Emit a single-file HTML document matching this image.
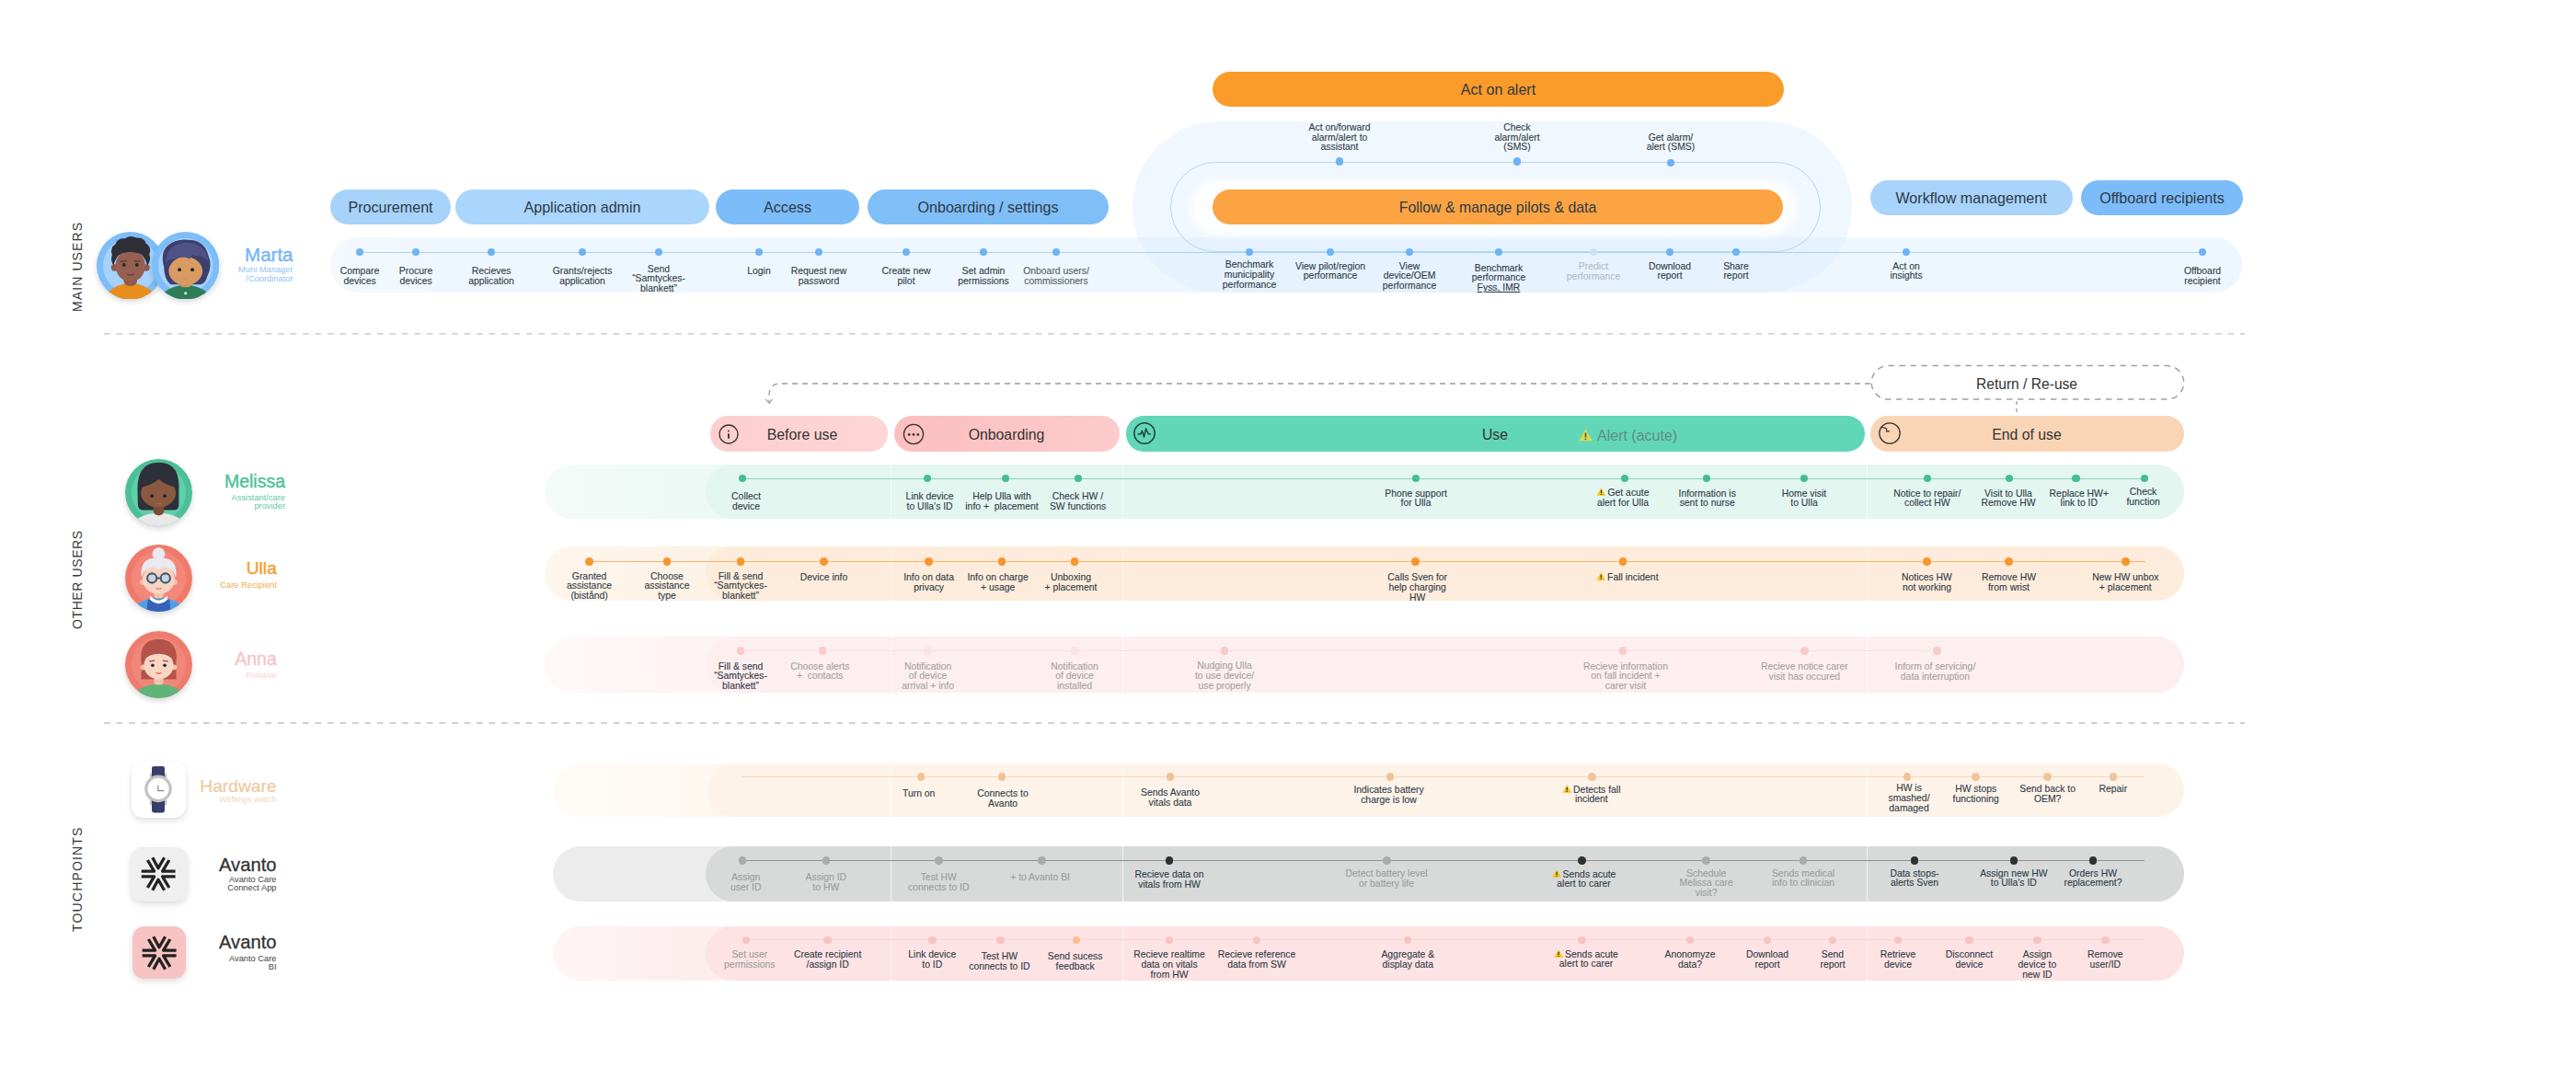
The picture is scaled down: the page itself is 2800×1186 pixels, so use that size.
<!DOCTYPE html>
<html><head><meta charset="utf-8"><style>
html,body{margin:0;padding:0;background:#ffffff;}
body{width:2800px;height:1186px;position:relative;overflow:hidden;font-family:"Liberation Sans", sans-serif;}
.it{position:absolute;transform:translateX(-50%);white-space:nowrap;text-align:center;-webkit-text-stroke:0.1px currentColor;}
.vt{position:absolute;transform-origin:0 0;transform:rotate(-90deg);white-space:nowrap;color:#3a3a3a;font-size:14px;line-height:14px;}
</style></head><body>

<div class="vt" style="left:77px;top:339px;letter-spacing:1.1px">MAIN USERS</div>
<div class="vt" style="left:77px;top:683.5px;letter-spacing:0.6px">OTHER USERS</div>
<div class="vt" style="left:77px;top:1012.5px;letter-spacing:1.18px">TOUCHPOINTS</div>
<svg style="position:absolute;left:0;top:0" width="2800" height="1186"><line x1="113" y1="362.9" x2="2440" y2="362.9" stroke="#c2c2c2" stroke-width="1.35" stroke-dasharray="6.7 6.8"/><line x1="113" y1="786" x2="2440" y2="786" stroke="#c2c2c2" stroke-width="1.35" stroke-dasharray="6.7 6.8"/></svg>
<div style="position:absolute;left:359.0px;top:258.0px;width:2078.0px;height:59.6px;background:linear-gradient(to right,#f3f9fe 0px,#eff7fe 120px);border-radius:30.0px;"></div>
<div style="position:absolute;left:1231.0px;top:132.0px;width:782.0px;height:185.7px;background:rgba(214,233,252,0.36);border-radius:93.0px;"></div>
<div style="position:absolute;left:1293px;top:195px;width:660px;height:61px;border-radius:30px;background:#fdfeff;filter:blur(5px)"></div>
<div style="position:absolute;left:1272px;top:175.5px;width:707px;height:98px;border-radius:49px;border:1px solid #b5d6f6;box-sizing:border-box"></div>
<div style="position:absolute;left:391.0px;top:273.5px;width:2003.0px;height:1.0px;background:#a9d2f7"></div>
<div style="position:absolute;left:359.0px;top:206.0px;width:131.0px;height:38.0px;background:#a7d3fb;border-radius:19.0px;"></div>
<div style="position:absolute;left:424.5px;top:216.4px;transform:translateX(-50%);white-space:nowrap;font-size:16.1px;line-height:19.3px;color:#2e3a44;font-weight:normal;text-align:center;">Procurement</div>
<div style="position:absolute;left:495.0px;top:206.0px;width:276.0px;height:38.0px;background:#aad5fc;border-radius:19.0px;"></div>
<div style="position:absolute;left:633.0px;top:216.4px;transform:translateX(-50%);white-space:nowrap;font-size:16.1px;line-height:19.3px;color:#2e3a44;font-weight:normal;text-align:center;">Application admin</div>
<div style="position:absolute;left:778.0px;top:206.0px;width:156.0px;height:38.0px;background:#7cbcf8;border-radius:19.0px;"></div>
<div style="position:absolute;left:856.0px;top:216.4px;transform:translateX(-50%);white-space:nowrap;font-size:16.1px;line-height:19.3px;color:#2e3a44;font-weight:normal;text-align:center;">Access</div>
<div style="position:absolute;left:943.0px;top:206.0px;width:262.0px;height:38.0px;background:#80bef8;border-radius:19.0px;"></div>
<div style="position:absolute;left:1074.0px;top:216.4px;transform:translateX(-50%);white-space:nowrap;font-size:16.1px;line-height:19.3px;color:#2e3a44;font-weight:normal;text-align:center;">Onboarding / settings</div>
<div style="position:absolute;left:2032.5px;top:195.5px;width:220.1px;height:38.0px;background:#a8d3fb;border-radius:19.0px;"></div>
<div style="position:absolute;left:2142.6px;top:205.9px;transform:translateX(-50%);white-space:nowrap;font-size:16.1px;line-height:19.3px;color:#2e3a44;font-weight:normal;text-align:center;">Workflow management</div>
<div style="position:absolute;left:2262.0px;top:195.5px;width:176.0px;height:38.0px;background:#7cbcf8;border-radius:19.0px;"></div>
<div style="position:absolute;left:2350.0px;top:205.9px;transform:translateX(-50%);white-space:nowrap;font-size:16.1px;line-height:19.3px;color:#2e3a44;font-weight:normal;text-align:center;">Offboard recipients</div>
<div style="position:absolute;left:1318.0px;top:78.0px;width:621.0px;height:38.0px;background:#fb9b29;border-radius:19.0px;"></div>
<div style="position:absolute;left:1628.5px;top:88.4px;transform:translateX(-50%);white-space:nowrap;font-size:16.1px;line-height:19.3px;color:#2e3a44;font-weight:normal;text-align:center;">Act on alert</div>
<div style="position:absolute;left:1318.0px;top:205.5px;width:620.0px;height:38.0px;background:#fca443;border-radius:19.0px;"></div>
<div style="position:absolute;left:1628.0px;top:216.1px;transform:translateX(-50%);white-space:nowrap;font-size:15.9px;line-height:19.1px;color:#2e3a44;font-weight:normal;text-align:center;">Follow &amp; manage pilots &amp; data</div>
<div style="position:absolute;left:386.7px;top:269.7px;width:8.6px;height:8.6px;border-radius:50%;background:#6db3f4"></div>
<div style="position:absolute;left:447.7px;top:269.7px;width:8.6px;height:8.6px;border-radius:50%;background:#6db3f4"></div>
<div style="position:absolute;left:529.7px;top:269.7px;width:8.6px;height:8.6px;border-radius:50%;background:#6db3f4"></div>
<div style="position:absolute;left:628.7px;top:269.7px;width:8.6px;height:8.6px;border-radius:50%;background:#6db3f4"></div>
<div style="position:absolute;left:711.7px;top:269.7px;width:8.6px;height:8.6px;border-radius:50%;background:#6db3f4"></div>
<div style="position:absolute;left:820.7px;top:269.7px;width:8.6px;height:8.6px;border-radius:50%;background:#6db3f4"></div>
<div style="position:absolute;left:885.7px;top:269.7px;width:8.6px;height:8.6px;border-radius:50%;background:#6db3f4"></div>
<div style="position:absolute;left:980.7px;top:269.7px;width:8.6px;height:8.6px;border-radius:50%;background:#6db3f4"></div>
<div style="position:absolute;left:1064.7px;top:269.7px;width:8.6px;height:8.6px;border-radius:50%;background:#6db3f4"></div>
<div style="position:absolute;left:1143.7px;top:269.7px;width:8.6px;height:8.6px;border-radius:50%;background:#6db3f4"></div>
<div style="position:absolute;left:1353.7px;top:269.7px;width:8.6px;height:8.6px;border-radius:50%;background:#6db3f4"></div>
<div style="position:absolute;left:1441.7px;top:269.7px;width:8.6px;height:8.6px;border-radius:50%;background:#6db3f4"></div>
<div style="position:absolute;left:1527.7px;top:269.7px;width:8.6px;height:8.6px;border-radius:50%;background:#6db3f4"></div>
<div style="position:absolute;left:1624.7px;top:269.7px;width:8.6px;height:8.6px;border-radius:50%;background:#6db3f4"></div>
<div style="position:absolute;left:1810.7px;top:269.7px;width:8.6px;height:8.6px;border-radius:50%;background:#6db3f4"></div>
<div style="position:absolute;left:1882.7px;top:269.7px;width:8.6px;height:8.6px;border-radius:50%;background:#6db3f4"></div>
<div style="position:absolute;left:2067.7px;top:269.7px;width:8.6px;height:8.6px;border-radius:50%;background:#6db3f4"></div>
<div style="position:absolute;left:2389.7px;top:269.7px;width:8.6px;height:8.6px;border-radius:50%;background:#6db3f4"></div>
<div style="position:absolute;left:1727.7px;top:269.7px;width:8.6px;height:8.6px;border-radius:50%;background:#c9e2fa"></div>
<div style="position:absolute;left:1451.7px;top:171.2px;width:8.6px;height:8.6px;border-radius:50%;background:#6db3f4"></div>
<div style="position:absolute;left:1644.7px;top:171.2px;width:8.6px;height:8.6px;border-radius:50%;background:#6db3f4"></div>
<div style="position:absolute;left:1811.7px;top:172.7px;width:8.6px;height:8.6px;border-radius:50%;background:#6db3f4"></div>
<div class="it" style="left:391.0px;top:290.1px;color:#2f3a46;font-size:10.4px;line-height:10.7px">Compare<br>devices</div>
<div class="it" style="left:452.0px;top:290.1px;color:#2f3a46;font-size:10.4px;line-height:10.7px">Procure<br>devices</div>
<div class="it" style="left:534.0px;top:290.1px;color:#2f3a46;font-size:10.4px;line-height:10.7px">Recieves<br>application</div>
<div class="it" style="left:633.0px;top:290.1px;color:#2f3a46;font-size:10.4px;line-height:10.7px">Grants/rejects<br>application</div>
<div class="it" style="left:716.0px;top:287.6px;color:#2f3a46;font-size:10.4px;line-height:10.7px">Send<br>&ldquo;Samtyckes-<br>blankett&rdquo;</div>
<div class="it" style="left:825.0px;top:290.1px;color:#2f3a46;font-size:10.4px;line-height:10.7px">Login</div>
<div class="it" style="left:890.0px;top:290.1px;color:#2f3a46;font-size:10.4px;line-height:10.7px">Request new<br>password</div>
<div class="it" style="left:985.0px;top:290.1px;color:#2f3a46;font-size:10.4px;line-height:10.7px">Create new<br>pilot</div>
<div class="it" style="left:1069.0px;top:290.1px;color:#2f3a46;font-size:10.4px;line-height:10.7px">Set admin<br>permissions</div>
<div class="it" style="left:1358.0px;top:283.2px;color:#2f3a46;font-size:10.4px;line-height:10.7px">Benchmark<br>municipality<br>performance</div>
<div class="it" style="left:1446.0px;top:284.5px;color:#2f3a46;font-size:10.4px;line-height:10.7px">View pilot/region<br>performance</div>
<div class="it" style="left:1532.0px;top:284.5px;color:#2f3a46;font-size:10.4px;line-height:10.7px">View<br>device/OEM<br>performance</div>
<div class="it" style="left:1629.0px;top:286.5px;color:#2f3a46;font-size:10.4px;line-height:10.7px">Benchmark<br>performance<br><span style="text-decoration:underline">Fyss, IMR</span></div>
<div class="it" style="left:1815.0px;top:284.5px;color:#2f3a46;font-size:10.4px;line-height:10.7px">Download<br>report</div>
<div class="it" style="left:1887.0px;top:284.5px;color:#2f3a46;font-size:10.4px;line-height:10.7px">Share<br>report</div>
<div class="it" style="left:2072.0px;top:284.5px;color:#2f3a46;font-size:10.4px;line-height:10.7px">Act on<br>insights</div>
<div class="it" style="left:2394.0px;top:290.3px;color:#2f3a46;font-size:10.4px;line-height:10.7px">Offboard<br>recipient</div>
<div class="it" style="left:1456.0px;top:133.8px;color:#2f3a46;font-size:10.4px;line-height:10.7px">Act on/forward<br>alarm/alert to<br>assistant</div>
<div class="it" style="left:1649.0px;top:133.8px;color:#2f3a46;font-size:10.4px;line-height:10.7px">Check<br>alarm/alert<br>(SMS)</div>
<div class="it" style="left:1816.0px;top:144.7px;color:#2f3a46;font-size:10.4px;line-height:10.7px">Get alarm/<br>alert (SMS)</div>
<div class="it" style="left:1148.0px;top:290.1px;color:#555b62;font-size:10.4px;line-height:10.7px">Onboard users/<br>commissioners</div>
<div class="it" style="left:1732.0px;top:285.2px;color:#b5bcc4;font-size:10.4px;line-height:10.7px">Predict<br>performance</div>
<svg style="position:absolute;left:0;top:0" width="2800" height="1186"><path d="M2033 417 L848 417 Q836 417 836 430 L836 437" fill="none" stroke="#9a9a9a" stroke-width="1.3" stroke-dasharray="6 5"/><path d="M832.5 434 L836 438.5 L839.5 434" fill="none" stroke="#777" stroke-width="1"/><line x1="2192" y1="436" x2="2192" y2="452" stroke="#9a9a9a" stroke-width="1.3" stroke-dasharray="4 4"/></svg>
<svg style="position:absolute;left:0;top:0" width="2800" height="1186"><rect x="2034.2" y="397.6" width="339.5" height="36.5" rx="18.25" fill="none" stroke="#a0a0a0" stroke-width="1.5" stroke-dasharray="6.5 5.5"/></svg>
<div style="position:absolute;left:2203.0px;top:408.7px;transform:translateX(-50%);white-space:nowrap;font-size:15.6px;line-height:18.7px;color:#333;font-weight:normal;text-align:center;">Return / Re-use</div>
<div style="position:absolute;left:771.5px;top:452.3px;width:193.5px;height:38.3px;background:linear-gradient(to right,#fdcfcf,#fdd6d5);border-radius:19.2px;"></div>
<div style="position:absolute;left:779.9px;top:459.7px;width:24px;height:24px;line-height:0"><svg width="24" height="24" viewBox="-12 -12 24 24"><circle cx="0" cy="0" r="10" fill="none" stroke="#3a3333" stroke-width="1.3"/><circle cx="-0.1" cy="-3.5" r="0.9" fill="#3a3333"/><rect x="-1" y="-0.8" width="1.9" height="5.6" rx="0.9" fill="#3a3333"/></svg></div>
<div style="position:absolute;left:872.0px;top:463.2px;transform:translateX(-50%);white-space:nowrap;font-size:15.8px;line-height:19.0px;color:#333;font-weight:normal;text-align:center;">Before use</div>
<div style="position:absolute;left:971.7px;top:452.3px;width:245.3px;height:38.3px;background:linear-gradient(to right,#fcbfbf,#fdcbcb);border-radius:19.2px;"></div>
<div style="position:absolute;left:980.6px;top:459.7px;width:24px;height:24px;line-height:0"><svg width="24" height="24" viewBox="-12 -12 24 24"><circle cx="0" cy="0" r="10.6" fill="none" stroke="#3a3333" stroke-width="1.3"/><circle cx="-4.8" cy="0.4" r="1.4" fill="#3a3333"/><circle cx="0" cy="0.4" r="1.4" fill="#3a3333"/><circle cx="4.8" cy="0.4" r="1.4" fill="#3a3333"/></svg></div>
<div style="position:absolute;left:1094.0px;top:463.2px;transform:translateX(-50%);white-space:nowrap;font-size:15.8px;line-height:19.0px;color:#333;font-weight:normal;text-align:center;">Onboarding</div>
<div style="position:absolute;left:1224.0px;top:452.3px;width:803.0px;height:38.3px;background:#62d7b8;border-radius:19.2px;"></div>
<div style="position:absolute;left:1230.9px;top:458.2px;width:26px;height:26px;line-height:0"><svg width="26" height="26" viewBox="-13 -13 26 26"><circle cx="0" cy="0" r="11.2" fill="none" stroke="#1e463c" stroke-width="1.5"/><path d="M-7.4 1.1 L-4.5 1.1 L-2.6 -2.7 L-0.5 4 L1.6 -5 L4.2 0.8 L6.7 1.1" fill="none" stroke="#1e463c" stroke-width="1.5" stroke-linejoin="round"/></svg></div>
<div style="position:absolute;left:1625.0px;top:463.2px;transform:translateX(-50%);white-space:nowrap;font-size:15.8px;line-height:19.0px;color:#333;font-weight:normal;text-align:center;">Use</div>
<div style="position:absolute;left:1716px;top:463.5px;white-space:nowrap;font-size:16px;line-height:20px;color:#5e8e80"><svg width="15" height="14" viewBox="0 0 10 9" style="vertical-align:-1px;margin-right:5px"><path d="M5 0.3 L9.8 8.7 L0.2 8.7 Z" fill="#d8dc4a"/><rect x="4.45" y="2.8" width="1.1" height="3.4" fill="#555"/><rect x="4.45" y="6.9" width="1.1" height="1.0" fill="#555"/></svg>Alert (acute)</div>
<div style="position:absolute;left:2033.4px;top:452.3px;width:340.6px;height:38.3px;background:#f9d5b6;border-radius:19.2px;"></div>
<div style="position:absolute;left:2041.2px;top:458.2px;width:26px;height:26px;line-height:0"><svg width="26" height="26" viewBox="-13 -13 26 26"><circle cx="0" cy="0" r="11.2" fill="none" stroke="#3b3530" stroke-width="1.3"/><path d="M-8.6 -6.9 L-3.3 -5 L-3.5 -1.9 L0 -2.4" fill="none" stroke="#3b3530" stroke-width="1.2" stroke-linejoin="round"/></svg></div>
<div style="position:absolute;left:2203.0px;top:463.2px;transform:translateX(-50%);white-space:nowrap;font-size:15.8px;line-height:19.0px;color:#333;font-weight:normal;text-align:center;">End of use</div>
<div style="position:absolute;left:592.0px;top:505.0px;width:1782.0px;height:59.0px;background:linear-gradient(to right,#f4fbf8 0px,#edf9f5 160px);border-radius:29.5px;"></div>
<div style="position:absolute;left:767.0px;top:505.0px;width:1607.0px;height:59.0px;background:#e3f6f0;border-radius:29.5px;"></div>
<div style="position:absolute;left:968.0px;top:505.0px;width:1.1px;height:59.0px;background:rgba(255,255,255,0.65)"></div>
<div style="position:absolute;left:1219.5px;top:505.0px;width:1.1px;height:59.0px;background:rgba(255,255,255,0.65)"></div>
<div style="position:absolute;left:2029.0px;top:505.0px;width:1.1px;height:59.0px;background:rgba(255,255,255,0.65)"></div>
<div style="position:absolute;left:807.0px;top:519.5px;width:1524.0px;height:1.1px;background:#86d6ba"></div>
<div style="position:absolute;left:802.7px;top:515.7px;width:8.6px;height:8.6px;border-radius:50%;background:#47bb92"></div>
<div style="position:absolute;left:1003.7px;top:515.7px;width:8.6px;height:8.6px;border-radius:50%;background:#47bb92"></div>
<div style="position:absolute;left:1088.7px;top:515.7px;width:8.6px;height:8.6px;border-radius:50%;background:#47bb92"></div>
<div style="position:absolute;left:1167.7px;top:515.7px;width:8.6px;height:8.6px;border-radius:50%;background:#47bb92"></div>
<div style="position:absolute;left:1534.7px;top:515.7px;width:8.6px;height:8.6px;border-radius:50%;background:#47bb92"></div>
<div style="position:absolute;left:1761.7px;top:515.7px;width:8.6px;height:8.6px;border-radius:50%;background:#47bb92"></div>
<div style="position:absolute;left:1850.7px;top:515.7px;width:8.6px;height:8.6px;border-radius:50%;background:#47bb92"></div>
<div style="position:absolute;left:1956.7px;top:515.7px;width:8.6px;height:8.6px;border-radius:50%;background:#47bb92"></div>
<div style="position:absolute;left:2090.7px;top:515.7px;width:8.6px;height:8.6px;border-radius:50%;background:#47bb92"></div>
<div style="position:absolute;left:2179.7px;top:515.7px;width:8.6px;height:8.6px;border-radius:50%;background:#47bb92"></div>
<div style="position:absolute;left:2252.2px;top:515.7px;width:8.6px;height:8.6px;border-radius:50%;background:#47bb92"></div>
<div style="position:absolute;left:2326.7px;top:515.7px;width:8.6px;height:8.6px;border-radius:50%;background:#47bb92"></div>
<div class="it" style="left:811.0px;top:535.4px;color:#2f3a46;font-size:10.4px;line-height:10.7px">Collect<br>device</div>
<div class="it" style="left:1010.6px;top:535.4px;color:#2f3a46;font-size:10.4px;line-height:10.7px">Link device<br>to Ulla&rsquo;s ID</div>
<div class="it" style="left:1089.0px;top:535.4px;color:#2f3a46;font-size:10.4px;line-height:10.7px">Help Ulla with<br>info +&nbsp; placement</div>
<div class="it" style="left:1171.5px;top:535.4px;color:#2f3a46;font-size:10.4px;line-height:10.7px">Check HW /<br>SW functions</div>
<div class="it" style="left:1539.0px;top:531.6px;color:#2f3a46;font-size:10.4px;line-height:10.7px">Phone support<br>for Ulla</div>
<div class="it" style="left:1764.0px;top:530.4px;color:#2f3a46;font-size:10.4px;line-height:10.7px"><svg width="10" height="9" viewBox="0 0 10 9" style="vertical-align:-0.5px;margin-right:2px"><path d="M5 0.3 L9.8 8.7 L0.2 8.7 Z" fill="#f5c518"/><rect x="4.4" y="2.8" width="1.2" height="3.4" fill="#333"/><rect x="4.4" y="6.9" width="1.2" height="1.1" fill="#333"/></svg>Get acute<br>alert for Ulla</div>
<div class="it" style="left:1855.7px;top:531.6px;color:#2f3a46;font-size:10.4px;line-height:10.7px">Information is<br>sent to nurse</div>
<div class="it" style="left:1961.0px;top:531.6px;color:#2f3a46;font-size:10.4px;line-height:10.7px">Home visit<br>to Ulla</div>
<div class="it" style="left:2094.8px;top:531.6px;color:#2f3a46;font-size:10.4px;line-height:10.7px">Notice to repair/<br>collect HW</div>
<div class="it" style="left:2183.0px;top:531.6px;color:#2f3a46;font-size:10.4px;line-height:10.7px">Visit to Ulla<br>Remove HW</div>
<div class="it" style="left:2259.8px;top:531.6px;color:#2f3a46;font-size:10.4px;line-height:10.7px">Replace HW+<br>link to ID</div>
<div class="it" style="left:2329.6px;top:529.9px;color:#2f3a46;font-size:10.4px;line-height:10.7px">Check<br>function</div>
<div style="position:absolute;left:592.0px;top:593.5px;width:1782.0px;height:59.8px;background:linear-gradient(to right,#fef6ee 0px,#fdf2e6 160px);border-radius:29.9px;"></div>
<div style="position:absolute;left:767.0px;top:593.5px;width:1607.0px;height:59.8px;background:#fdecdb;border-radius:29.9px;"></div>
<div style="position:absolute;left:968.0px;top:593.5px;width:1.1px;height:59.8px;background:rgba(255,255,255,0.65)"></div>
<div style="position:absolute;left:1219.5px;top:593.5px;width:1.1px;height:59.8px;background:rgba(255,255,255,0.65)"></div>
<div style="position:absolute;left:2029.0px;top:593.5px;width:1.1px;height:59.8px;background:rgba(255,255,255,0.65)"></div>
<div style="position:absolute;left:640.0px;top:610.0px;width:1692.0px;height:1.1px;background:#f8b468"></div>
<div style="position:absolute;left:636.3px;top:606.2px;width:8.6px;height:8.6px;border-radius:50%;background:#f6962b"></div>
<div style="position:absolute;left:720.7px;top:606.2px;width:8.6px;height:8.6px;border-radius:50%;background:#f6962b"></div>
<div style="position:absolute;left:800.7px;top:606.2px;width:8.6px;height:8.6px;border-radius:50%;background:#f6962b"></div>
<div style="position:absolute;left:891.2px;top:606.2px;width:8.6px;height:8.6px;border-radius:50%;background:#f6962b"></div>
<div style="position:absolute;left:1005.3px;top:606.2px;width:8.6px;height:8.6px;border-radius:50%;background:#f6962b"></div>
<div style="position:absolute;left:1084.7px;top:606.2px;width:8.6px;height:8.6px;border-radius:50%;background:#f6962b"></div>
<div style="position:absolute;left:1163.7px;top:606.2px;width:8.6px;height:8.6px;border-radius:50%;background:#f6962b"></div>
<div style="position:absolute;left:1534.3px;top:606.2px;width:8.6px;height:8.6px;border-radius:50%;background:#f6962b"></div>
<div style="position:absolute;left:1759.7px;top:606.2px;width:8.6px;height:8.6px;border-radius:50%;background:#f6962b"></div>
<div style="position:absolute;left:2090.4px;top:606.2px;width:8.6px;height:8.6px;border-radius:50%;background:#f6962b"></div>
<div style="position:absolute;left:2179.2px;top:606.2px;width:8.6px;height:8.6px;border-radius:50%;background:#f6962b"></div>
<div style="position:absolute;left:2306.0px;top:606.2px;width:8.6px;height:8.6px;border-radius:50%;background:#f6962b"></div>
<div class="it" style="left:640.6px;top:621.5px;color:#2f3a46;font-size:10.4px;line-height:10.7px">Granted<br>assistance<br>(bist&aring;nd)</div>
<div class="it" style="left:725.0px;top:621.5px;color:#2f3a46;font-size:10.4px;line-height:10.7px">Choose<br>assistance<br>type</div>
<div class="it" style="left:805.0px;top:621.5px;color:#2f3a46;font-size:10.4px;line-height:10.7px">Fill &amp; send<br>&ldquo;Samtyckes-<br>blankett&rdquo;</div>
<div class="it" style="left:895.5px;top:623.1px;color:#2f3a46;font-size:10.4px;line-height:10.7px">Device info</div>
<div class="it" style="left:1009.6px;top:623.1px;color:#2f3a46;font-size:10.4px;line-height:10.7px">Info on data<br>privacy</div>
<div class="it" style="left:1084.6px;top:623.1px;color:#2f3a46;font-size:10.4px;line-height:10.7px">Info on charge<br>+ usage</div>
<div class="it" style="left:1164.0px;top:623.1px;color:#2f3a46;font-size:10.4px;line-height:10.7px">Unboxing<br>+ placement</div>
<div class="it" style="left:1540.7px;top:623.1px;color:#2f3a46;font-size:10.4px;line-height:10.7px">Calls Sven for<br>help charging<br>HW</div>
<div class="it" style="left:1768.8px;top:621.9px;color:#2f3a46;font-size:10.4px;line-height:10.7px"><svg width="10" height="9" viewBox="0 0 10 9" style="vertical-align:-0.5px;margin-right:2px"><path d="M5 0.3 L9.8 8.7 L0.2 8.7 Z" fill="#f5c518"/><rect x="4.4" y="2.8" width="1.2" height="3.4" fill="#333"/><rect x="4.4" y="6.9" width="1.2" height="1.1" fill="#333"/></svg>Fall incident</div>
<div class="it" style="left:2094.5px;top:623.0px;color:#2f3a46;font-size:10.4px;line-height:10.7px">Notices HW<br>not working</div>
<div class="it" style="left:2183.5px;top:623.0px;color:#2f3a46;font-size:10.4px;line-height:10.7px">Remove HW<br>from wrist</div>
<div class="it" style="left:2310.3px;top:623.0px;color:#2f3a46;font-size:10.4px;line-height:10.7px">New HW unbox<br>+ placement</div>
<div style="position:absolute;left:592.0px;top:692.0px;width:1782.0px;height:60.5px;background:linear-gradient(to right,#fff9f9 0px,#fef3f3 160px);border-radius:30.2px;"></div>
<div style="position:absolute;left:767.0px;top:692.0px;width:1607.0px;height:60.5px;background:#fdefef;border-radius:30.2px;"></div>
<div style="position:absolute;left:968.0px;top:692.0px;width:1.1px;height:60.5px;background:rgba(255,255,255,0.65)"></div>
<div style="position:absolute;left:1219.5px;top:692.0px;width:1.1px;height:60.5px;background:rgba(255,255,255,0.65)"></div>
<div style="position:absolute;left:2029.0px;top:692.0px;width:1.1px;height:60.5px;background:rgba(255,255,255,0.65)"></div>
<div style="position:absolute;left:805.0px;top:706.6px;width:1300.0px;height:1.3px;background:#fbdede"></div>
<div style="position:absolute;left:800.7px;top:703.0px;width:8.6px;height:8.6px;border-radius:50%;background:#f9caca"></div>
<div style="position:absolute;left:889.7px;top:703.0px;width:8.6px;height:8.6px;border-radius:50%;background:#f9caca"></div>
<div style="position:absolute;left:1326.7px;top:703.0px;width:8.6px;height:8.6px;border-radius:50%;background:#f9caca"></div>
<div style="position:absolute;left:1759.7px;top:703.0px;width:8.6px;height:8.6px;border-radius:50%;background:#f9caca"></div>
<div style="position:absolute;left:1957.0px;top:703.0px;width:8.6px;height:8.6px;border-radius:50%;background:#f9caca"></div>
<div style="position:absolute;left:2101.3px;top:703.0px;width:8.6px;height:8.6px;border-radius:50%;background:#f9caca"></div>
<div style="position:absolute;left:1004.3px;top:703.0px;width:8.6px;height:8.6px;border-radius:50%;background:#fbe3e3"></div>
<div style="position:absolute;left:1163.7px;top:703.0px;width:8.6px;height:8.6px;border-radius:50%;background:#fbe3e3"></div>
<div class="it" style="left:805.0px;top:719.6px;color:#2f3a46;font-size:10.4px;line-height:10.7px">Fill &amp; send<br>&ldquo;Samtyckes-<br>blankett&rdquo;</div>
<div class="it" style="left:891.3px;top:719.6px;color:#a3a3a3;font-size:10.4px;line-height:10.7px">Choose alerts<br>+&nbsp; contacts</div>
<div class="it" style="left:1008.6px;top:719.6px;color:#a3a3a3;font-size:10.4px;line-height:10.7px">Notification<br>of device<br>arrival + info</div>
<div class="it" style="left:1168.0px;top:719.6px;color:#a3a3a3;font-size:10.4px;line-height:10.7px">Notification<br>of device<br>installed</div>
<div class="it" style="left:1331.0px;top:719.1px;color:#a3a3a3;font-size:10.4px;line-height:10.7px">Nudging Ulla<br>to use device/<br>use properly</div>
<div class="it" style="left:1767.0px;top:719.6px;color:#a3a3a3;font-size:10.4px;line-height:10.7px">Recieve information<br>on fall incident +<br>carer visit</div>
<div class="it" style="left:1961.3px;top:720.1px;color:#a3a3a3;font-size:10.4px;line-height:10.7px">Recieve notice carer<br>visit has occured</div>
<div class="it" style="left:2103.4px;top:720.1px;color:#a3a3a3;font-size:10.4px;line-height:10.7px">Inform of servicing/<br>data interruption</div>
<div style="position:absolute;left:601.0px;top:830.0px;width:1773.0px;height:58.4px;background:linear-gradient(to right,#fffcf8 0px,#fef8f1 160px);border-radius:29.2px;"></div>
<div style="position:absolute;left:768.6px;top:830.0px;width:1605.4px;height:58.4px;background:#fdf3e9;border-radius:29.2px;"></div>
<div style="position:absolute;left:968.0px;top:830.0px;width:1.1px;height:58.4px;background:rgba(255,255,255,0.65)"></div>
<div style="position:absolute;left:1219.5px;top:830.0px;width:1.1px;height:58.4px;background:rgba(255,255,255,0.65)"></div>
<div style="position:absolute;left:2029.0px;top:830.0px;width:1.1px;height:58.4px;background:rgba(255,255,255,0.65)"></div>
<div style="position:absolute;left:806.0px;top:844.1px;width:1524.0px;height:1.3px;background:#f6d8b8"></div>
<div style="position:absolute;left:996.5px;top:840.4px;width:8.6px;height:8.6px;border-radius:50%;background:#f1c398"></div>
<div style="position:absolute;left:1084.7px;top:840.4px;width:8.6px;height:8.6px;border-radius:50%;background:#f1c398"></div>
<div style="position:absolute;left:1267.7px;top:840.4px;width:8.6px;height:8.6px;border-radius:50%;background:#f1c398"></div>
<div style="position:absolute;left:1506.7px;top:840.4px;width:8.6px;height:8.6px;border-radius:50%;background:#f1c398"></div>
<div style="position:absolute;left:1726.3px;top:840.4px;width:8.6px;height:8.6px;border-radius:50%;background:#f1c398"></div>
<div style="position:absolute;left:2068.5px;top:840.4px;width:8.6px;height:8.6px;border-radius:50%;background:#f1c398"></div>
<div style="position:absolute;left:2143.4px;top:840.4px;width:8.6px;height:8.6px;border-radius:50%;background:#f1c398"></div>
<div style="position:absolute;left:2221.4px;top:840.4px;width:8.6px;height:8.6px;border-radius:50%;background:#f1c398"></div>
<div style="position:absolute;left:2292.5px;top:840.4px;width:8.6px;height:8.6px;border-radius:50%;background:#f1c398"></div>
<div class="it" style="left:998.7px;top:858.2px;color:#2f3a46;font-size:10.4px;line-height:10.7px">Turn on</div>
<div class="it" style="left:1090.0px;top:858.2px;color:#2f3a46;font-size:10.4px;line-height:10.7px">Connects to<br>Avanto</div>
<div class="it" style="left:1272.0px;top:856.8px;color:#2f3a46;font-size:10.4px;line-height:10.7px">Sends Avanto<br>vitals data</div>
<div class="it" style="left:1509.5px;top:854.1px;color:#2f3a46;font-size:10.4px;line-height:10.7px">Indicates battery<br>charge is low</div>
<div class="it" style="left:1729.8px;top:852.9px;color:#2f3a46;font-size:10.4px;line-height:10.7px"><svg width="10" height="9" viewBox="0 0 10 9" style="vertical-align:-0.5px;margin-right:2px"><path d="M5 0.3 L9.8 8.7 L0.2 8.7 Z" fill="#f5c518"/><rect x="4.4" y="2.8" width="1.2" height="3.4" fill="#333"/><rect x="4.4" y="6.9" width="1.2" height="1.1" fill="#333"/></svg>Detects fall<br>incident</div>
<div class="it" style="left:2075.0px;top:852.4px;color:#2f3a46;font-size:10.4px;line-height:10.7px">HW is<br>smashed/<br>damaged</div>
<div class="it" style="left:2147.7px;top:852.9px;color:#2f3a46;font-size:10.4px;line-height:10.7px">HW stops<br>functioning</div>
<div class="it" style="left:2225.7px;top:852.9px;color:#2f3a46;font-size:10.4px;line-height:10.7px">Send back to<br>OEM?</div>
<div class="it" style="left:2296.8px;top:852.9px;color:#2f3a46;font-size:10.4px;line-height:10.7px">Repair</div>
<div style="position:absolute;left:601.0px;top:920.0px;width:1773.0px;height:59.5px;background:#ececec;border-radius:29.8px;"></div>
<div style="position:absolute;left:767.0px;top:920.0px;width:1607.0px;height:59.5px;background:#d7dad9;border-radius:29.8px;"></div>
<div style="position:absolute;left:968.0px;top:920.0px;width:1.1px;height:59.5px;background:rgba(255,255,255,0.65)"></div>
<div style="position:absolute;left:1219.5px;top:920.0px;width:1.1px;height:59.5px;background:rgba(255,255,255,0.65)"></div>
<div style="position:absolute;left:2029.0px;top:920.0px;width:1.1px;height:59.5px;background:rgba(255,255,255,0.65)"></div>
<div style="position:absolute;left:806.8px;top:934.6px;width:1523.9px;height:1.4px;background:#8f9291"></div>
<div style="position:absolute;left:802.5px;top:931.0px;width:8.6px;height:8.6px;border-radius:50%;background:#a9acab"></div>
<div style="position:absolute;left:893.5px;top:931.0px;width:8.6px;height:8.6px;border-radius:50%;background:#a9acab"></div>
<div style="position:absolute;left:1016.0px;top:931.0px;width:8.6px;height:8.6px;border-radius:50%;background:#a9acab"></div>
<div style="position:absolute;left:1128.4px;top:931.0px;width:8.6px;height:8.6px;border-radius:50%;background:#a9acab"></div>
<div style="position:absolute;left:1503.1px;top:931.0px;width:8.6px;height:8.6px;border-radius:50%;background:#a9acab"></div>
<div style="position:absolute;left:1850.4px;top:931.0px;width:8.6px;height:8.6px;border-radius:50%;background:#a9acab"></div>
<div style="position:absolute;left:1955.7px;top:931.0px;width:8.6px;height:8.6px;border-radius:50%;background:#a9acab"></div>
<div style="position:absolute;left:1266.7px;top:931.0px;width:8.6px;height:8.6px;border-radius:50%;background:#2e3231"></div>
<div style="position:absolute;left:1715.3px;top:931.0px;width:8.6px;height:8.6px;border-radius:50%;background:#2e3231"></div>
<div style="position:absolute;left:2076.7px;top:931.0px;width:8.6px;height:8.6px;border-radius:50%;background:#2e3231"></div>
<div style="position:absolute;left:2184.5px;top:931.0px;width:8.6px;height:8.6px;border-radius:50%;background:#2e3231"></div>
<div style="position:absolute;left:2270.7px;top:931.0px;width:8.6px;height:8.6px;border-radius:50%;background:#2e3231"></div>
<div class="it" style="left:810.7px;top:948.9px;color:#9b9d9c;font-size:10.4px;line-height:10.7px">Assign<br>user ID</div>
<div class="it" style="left:897.8px;top:948.9px;color:#9b9d9c;font-size:10.4px;line-height:10.7px">Assign ID<br>to HW</div>
<div class="it" style="left:1020.3px;top:948.9px;color:#9b9d9c;font-size:10.4px;line-height:10.7px">Test HW<br>connects to ID</div>
<div class="it" style="left:1130.6px;top:948.9px;color:#9b9d9c;font-size:10.4px;line-height:10.7px">+ to Avanto BI</div>
<div class="it" style="left:1507.0px;top:945.1px;color:#9b9d9c;font-size:10.4px;line-height:10.7px">Detect battery level<br>or battery life</div>
<div class="it" style="left:1854.7px;top:944.6px;color:#9b9d9c;font-size:10.4px;line-height:10.7px">Schedule<br>Melissa care<br>visit?</div>
<div class="it" style="left:1960.0px;top:944.6px;color:#9b9d9c;font-size:10.4px;line-height:10.7px">Sends medical<br>info to clinician</div>
<div class="it" style="left:1271.0px;top:946.1px;color:#2f3a46;font-size:10.4px;line-height:10.7px">Recieve data on<br>vitals from HW</div>
<div class="it" style="left:1721.5px;top:944.9px;color:#2f3a46;font-size:10.4px;line-height:10.7px"><svg width="10" height="9" viewBox="0 0 10 9" style="vertical-align:-0.5px;margin-right:2px"><path d="M5 0.3 L9.8 8.7 L0.2 8.7 Z" fill="#f5c518"/><rect x="4.4" y="2.8" width="1.2" height="3.4" fill="#333"/><rect x="4.4" y="6.9" width="1.2" height="1.1" fill="#333"/></svg>Sends acute<br>alert to carer</div>
<div class="it" style="left:2081.0px;top:944.6px;color:#2f3a46;font-size:10.4px;line-height:10.7px">Data stops-<br>alerts Sven</div>
<div class="it" style="left:2188.8px;top:944.6px;color:#2f3a46;font-size:10.4px;line-height:10.7px">Assign new HW<br>to Ulla&rsquo;s ID</div>
<div class="it" style="left:2275.0px;top:944.6px;color:#2f3a46;font-size:10.4px;line-height:10.7px">Orders HW<br>replacement?</div>
<div style="position:absolute;left:601.0px;top:1006.8px;width:1773.0px;height:59.0px;background:linear-gradient(to right,#fef5f5 0px,#fdeded 160px);border-radius:29.5px;"></div>
<div style="position:absolute;left:767.0px;top:1006.8px;width:1607.0px;height:59.0px;background:#fde3e3;border-radius:29.5px;"></div>
<div style="position:absolute;left:968.0px;top:1006.8px;width:1.1px;height:59.0px;background:rgba(255,255,255,0.65)"></div>
<div style="position:absolute;left:1219.5px;top:1006.8px;width:1.1px;height:59.0px;background:rgba(255,255,255,0.65)"></div>
<div style="position:absolute;left:2029.0px;top:1006.8px;width:1.1px;height:59.0px;background:rgba(255,255,255,0.65)"></div>
<div style="position:absolute;left:811.0px;top:1021.1px;width:1519.0px;height:1.3px;background:#f8d3d3"></div>
<div style="position:absolute;left:806.7px;top:1017.5px;width:8.6px;height:8.6px;border-radius:50%;background:#f9c3c3"></div>
<div style="position:absolute;left:895.3px;top:1017.5px;width:8.6px;height:8.6px;border-radius:50%;background:#f9c3c3"></div>
<div style="position:absolute;left:1009.0px;top:1017.5px;width:8.6px;height:8.6px;border-radius:50%;background:#f9c3c3"></div>
<div style="position:absolute;left:1083.1px;top:1017.5px;width:8.6px;height:8.6px;border-radius:50%;background:#f9c3c3"></div>
<div style="position:absolute;left:1266.7px;top:1017.5px;width:8.6px;height:8.6px;border-radius:50%;background:#f9c3c3"></div>
<div style="position:absolute;left:1361.7px;top:1017.5px;width:8.6px;height:8.6px;border-radius:50%;background:#f9c3c3"></div>
<div style="position:absolute;left:1525.7px;top:1017.5px;width:8.6px;height:8.6px;border-radius:50%;background:#f9c3c3"></div>
<div style="position:absolute;left:1715.3px;top:1017.5px;width:8.6px;height:8.6px;border-radius:50%;background:#f9c3c3"></div>
<div style="position:absolute;left:1832.9px;top:1017.5px;width:8.6px;height:8.6px;border-radius:50%;background:#f9c3c3"></div>
<div style="position:absolute;left:1916.7px;top:1017.5px;width:8.6px;height:8.6px;border-radius:50%;background:#f9c3c3"></div>
<div style="position:absolute;left:1987.7px;top:1017.5px;width:8.6px;height:8.6px;border-radius:50%;background:#f9c3c3"></div>
<div style="position:absolute;left:2058.7px;top:1017.5px;width:8.6px;height:8.6px;border-radius:50%;background:#f9c3c3"></div>
<div style="position:absolute;left:2136.2px;top:1017.5px;width:8.6px;height:8.6px;border-radius:50%;background:#f9c3c3"></div>
<div style="position:absolute;left:2210.1px;top:1017.5px;width:8.6px;height:8.6px;border-radius:50%;background:#f9c3c3"></div>
<div style="position:absolute;left:2284.0px;top:1017.5px;width:8.6px;height:8.6px;border-radius:50%;background:#f9c3c3"></div>
<div style="position:absolute;left:1165.6px;top:1017.5px;width:8.6px;height:8.6px;border-radius:50%;background:#f9bf8f"></div>
<div class="it" style="left:814.8px;top:1033.1px;color:#9b9d9c;font-size:10.4px;line-height:10.7px">Set user<br>permissions</div>
<div class="it" style="left:899.6px;top:1033.1px;color:#2f3a46;font-size:10.4px;line-height:10.7px">Create recipient<br>/assign ID</div>
<div class="it" style="left:1013.3px;top:1033.1px;color:#2f3a46;font-size:10.4px;line-height:10.7px">Link device<br>to ID</div>
<div class="it" style="left:1086.4px;top:1034.9px;color:#2f3a46;font-size:10.4px;line-height:10.7px">Test HW<br>connects to ID</div>
<div class="it" style="left:1168.6px;top:1034.9px;color:#2f3a46;font-size:10.4px;line-height:10.7px">Send sucess<br>feedback</div>
<div class="it" style="left:1271.0px;top:1033.1px;color:#2f3a46;font-size:10.4px;line-height:10.7px">Recieve realtime<br>data on vitals<br>from HW</div>
<div class="it" style="left:1366.0px;top:1033.1px;color:#2f3a46;font-size:10.4px;line-height:10.7px">Recieve reference<br>data from SW</div>
<div class="it" style="left:1530.3px;top:1033.1px;color:#2f3a46;font-size:10.4px;line-height:10.7px">Aggregate &amp;<br>display data</div>
<div class="it" style="left:1724.0px;top:1031.9px;color:#2f3a46;font-size:10.4px;line-height:10.7px"><svg width="10" height="9" viewBox="0 0 10 9" style="vertical-align:-0.5px;margin-right:2px"><path d="M5 0.3 L9.8 8.7 L0.2 8.7 Z" fill="#f5c518"/><rect x="4.4" y="2.8" width="1.2" height="3.4" fill="#333"/><rect x="4.4" y="6.9" width="1.2" height="1.1" fill="#333"/></svg>Sends acute<br>alert to carer</div>
<div class="it" style="left:1837.0px;top:1033.1px;color:#2f3a46;font-size:10.4px;line-height:10.7px">Anonomyze<br>data?</div>
<div class="it" style="left:1921.0px;top:1033.3px;color:#2f3a46;font-size:10.4px;line-height:10.7px">Download<br>report</div>
<div class="it" style="left:1992.0px;top:1033.3px;color:#2f3a46;font-size:10.4px;line-height:10.7px">Send<br>report</div>
<div class="it" style="left:2063.0px;top:1033.3px;color:#2f3a46;font-size:10.4px;line-height:10.7px">Retrieve<br>device</div>
<div class="it" style="left:2140.5px;top:1033.3px;color:#2f3a46;font-size:10.4px;line-height:10.7px">Disconnect<br>device</div>
<div class="it" style="left:2214.4px;top:1033.3px;color:#2f3a46;font-size:10.4px;line-height:10.7px">Assign<br>device to<br>new ID</div>
<div class="it" style="left:2288.3px;top:1033.3px;color:#2f3a46;font-size:10.4px;line-height:10.7px">Remove<br>user/ID</div>
<div style="position:absolute;left:105.2px;top:251.8px;width:73.5px;height:73.5px;border-radius:50%;box-shadow:0 3px 6px rgba(0,0,0,0.16)"><svg width="73.5" height="73.5" viewBox="0 0 100 100"><defs><clipPath id="c1"><circle cx="50" cy="50" r="50"/></clipPath></defs><g clip-path="url(#c1)"><rect width="100" height="100" fill="#7dbdf8"/><circle cx="50" cy="50" r="40.5" fill="#a6d2fb"/>
<path d="M12 100 Q16 80 50 75 Q84 80 88 100Z" fill="#e88e1d"/>
<rect x="40" y="58" width="20" height="22" rx="8" fill="#8c5a4c"/>
<circle cx="26.5" cy="53" r="5" fill="#8c5a4c"/><circle cx="73.5" cy="53" r="5" fill="#8c5a4c"/>
<ellipse cx="50" cy="50" rx="22" ry="24" fill="#955f52"/>
<path d="M25 50 Q20 42 23 34 Q19 24 28 18 Q31 9 42 10 Q50 4 59 9 Q70 8 73 17 Q82 23 78 33 Q81 42 75 50 Q73 42 70 38 Q66 31 58 31 Q50 28 42 31 Q33 32 30 38 Q27 42 25 50Z" fill="#2f2f38"/>
<circle cx="40.5" cy="49" r="2.6" fill="#2a2a2a"/><circle cx="59.5" cy="49" r="2.6" fill="#2a2a2a"/>
<path d="M35 44 L45 43" stroke="#5a3a32" stroke-width="1.6"/><path d="M55 43 L65 44" stroke="#5a3a32" stroke-width="1.6"/>
<path d="M45 63 Q50 65 55 63" stroke="#6d3f35" stroke-width="2.2" fill="none"/></g></svg></div>
<div style="position:absolute;left:165.4px;top:251.8px;width:73.5px;height:73.5px;border-radius:50%;box-shadow:0 3px 6px rgba(0,0,0,0.16)"><svg width="73.5" height="73.5" viewBox="0 0 100 100"><defs><clipPath id="c2"><circle cx="50" cy="50" r="50"/></clipPath></defs><g clip-path="url(#c2)"><rect width="100" height="100" fill="#7dbdf8"/><circle cx="50" cy="50" r="40.5" fill="#a6d2fb"/>
<path d="M18 52 Q12 30 24 20 Q36 10 54 12 Q78 12 84 36 Q90 50 82 66 Q80 76 72 78 L28 78 Q18 70 18 52Z" fill="#3d3f6d"/>
<path d="M12 100 Q18 82 50 78 Q82 82 88 100Z" fill="#2d7d58"/>
<rect x="41" y="62" width="18" height="20" rx="6" fill="#d0915a"/>
<ellipse cx="50" cy="58" rx="25" ry="21" fill="#d89b62"/>
<path d="M20 46 Q22 18 50 16 Q80 16 84 44 Q76 34 64 36 Q60 30 56 40 Q44 34 34 40 Q26 40 20 46Z" fill="#4e5284"/>
<circle cx="41" cy="56" r="2.6" fill="#1f1f1f"/><circle cx="60" cy="56" r="2.6" fill="#1f1f1f"/>
<path d="M45 69 Q50 67 55 69 Q50 72 45 69Z" fill="#e08a6a"/>
<circle cx="50" cy="91" r="2" fill="#fff"/></g></svg></div>
<div style="position:absolute;left:135.5px;top:498.5px;width:73px;height:73px;border-radius:50%;box-shadow:0 3px 6px rgba(0,0,0,0.16)"><svg width="73" height="73" viewBox="0 0 100 100"><defs><clipPath id="c3"><circle cx="50" cy="50" r="50"/></clipPath></defs><g clip-path="url(#c3)"><rect width="100" height="100" fill="#4dbf98"/><circle cx="50" cy="50" r="40.5" fill="#5ecfa9"/>
<path d="M18.5 45 Q18 5 50 5 Q82 5 80 45 L80 68 Q80 76 72 76 L28 76 Q19 76 19 68Z" fill="#2d3038"/>
<path d="M10 100 Q16 82 50 80 Q84 82 90 100Z" fill="#e8e8e8"/>
<rect x="42" y="62" width="16" height="22" rx="7" fill="#7a4b35"/>
<ellipse cx="49.5" cy="51" rx="26" ry="21" fill="#8a5a40"/>
<path d="M22 42 Q26 24 50 24 Q74 24 78 42 Q62 40 50 30 Q38 40 22 42Z" fill="#2d3038"/>
<circle cx="40" cy="55" r="2.5" fill="#222"/><circle cx="59" cy="55" r="2.5" fill="#222"/>
<path d="M45 66 Q50 64 55 66 Q50 68.5 45 66Z" fill="#b36248"/></g></svg></div>
<div style="position:absolute;left:135.5px;top:591.5px;width:73px;height:73px;border-radius:50%;box-shadow:0 3px 6px rgba(0,0,0,0.16)"><svg width="73" height="73" viewBox="0 0 100 100"><defs><clipPath id="c4"><circle cx="50" cy="50" r="50"/></clipPath></defs><g clip-path="url(#c4)"><rect width="100" height="100" fill="#ef7a6b"/><circle cx="50" cy="50" r="40.5" fill="#f2877a"/>
<path d="M10 100 Q16 82 50 78 Q84 82 90 100Z" fill="#4f9fe6"/>
<path d="M34 82 L66 82 L68 100 L32 100Z" fill="#3563b9"/>
<path d="M37 76 Q50 90 63 76 L63 82 Q50 94 37 82Z" fill="#ffffff"/>
<rect x="43" y="62" width="14" height="18" rx="5" fill="#f1c3ac"/>
<circle cx="26" cy="56" r="4" fill="#f1c3ac"/><circle cx="74" cy="56" r="4" fill="#f1c3ac"/>
<ellipse cx="50" cy="52" rx="24" ry="22" fill="#f7d3c2"/>
<circle cx="50" cy="14" r="9.5" fill="#e9e9ef"/>
<path d="M24.5 50 Q20 18 50 20 Q80 18 75.5 50 Q72 34 56 34 Q50 40 44 34 Q28 34 24.5 50Z" fill="#e9e9ef"/>
<circle cx="40" cy="50" r="7" fill="#c9d5e3" stroke="#46566c" stroke-width="2.8"/><circle cx="60" cy="50" r="7" fill="#c9d5e3" stroke="#46566c" stroke-width="2.8"/>
<path d="M47 50 L53 50" stroke="#46566c" stroke-width="2.4"/>
<path d="M46 65 Q50 67 54 65" stroke="#d9867a" stroke-width="2" fill="none"/></g></svg></div>
<div style="position:absolute;left:135.5px;top:686.0px;width:73px;height:73px;border-radius:50%;box-shadow:0 3px 6px rgba(0,0,0,0.16)"><svg width="73" height="73" viewBox="0 0 100 100"><defs><clipPath id="c5"><circle cx="50" cy="50" r="50"/></clipPath></defs><g clip-path="url(#c5)"><rect width="100" height="100" fill="#ef7b6e"/><circle cx="50" cy="50" r="40.5" fill="#f0887a"/>
<path d="M24 48 Q20 12 50 12 Q80 12 76 48 L76 72 L24 72Z" fill="#b5524a"/>
<path d="M10 100 Q16 82 50 78 Q84 82 90 100Z" fill="#5fb47a"/>
<rect x="43" y="62" width="14" height="18" rx="5" fill="#f1c3ac"/>
<circle cx="27" cy="54" r="4" fill="#f1c3ac"/><circle cx="73" cy="54" r="4" fill="#f1c3ac"/>
<ellipse cx="50" cy="51" rx="22" ry="21" fill="#f9d5c4"/>
<path d="M27 44 Q28 24 50 24 Q72 24 73 44 Q64 34 50 34 Q36 34 27 44Z" fill="#b5524a"/>
<path d="M36 45 L44 44" stroke="#8a4a40" stroke-width="1.6"/><path d="M56 44 L64 45" stroke="#8a4a40" stroke-width="1.6"/>
<circle cx="41" cy="51" r="2.5" fill="#2a2a2a"/><circle cx="59" cy="51" r="2.5" fill="#2a2a2a"/>
<path d="M46 62 Q50 64 54 62" stroke="#d9776a" stroke-width="2" fill="none"/></g></svg></div>
<div style="position:absolute;right:2481.5px;top:264.9px;white-space:nowrap;font-size:20.5px;line-height:24.60px;color:#78b7f5;font-weight:normal;text-align:right;letter-spacing:0px;-webkit-text-stroke:0.45px #78b7f5;">Marta</div>
<div style="position:absolute;right:2481.5px;top:288.4px;white-space:nowrap;font-size:9.3px;line-height:11.16px;color:#8ec3f6;font-weight:normal;text-align:right;letter-spacing:0px;">Muni Manager</div>
<div style="position:absolute;right:2481.5px;top:298.1px;white-space:nowrap;font-size:9.3px;line-height:11.16px;color:#8ec3f6;font-weight:normal;text-align:right;letter-spacing:0px;">/Coordinator</div>
<div style="position:absolute;right:2490.0px;top:512.3px;white-space:nowrap;font-size:19.5px;line-height:23.40px;color:#4fc39a;font-weight:normal;text-align:right;letter-spacing:0px;-webkit-text-stroke:0.45px #4fc39a;">Melissa</div>
<div style="position:absolute;right:2490.0px;top:535.8px;white-space:nowrap;font-size:9.3px;line-height:11.16px;color:#5ec9a3;font-weight:normal;text-align:right;letter-spacing:0px;">Assistant/care</div>
<div style="position:absolute;right:2490.0px;top:545.2px;white-space:nowrap;font-size:9.3px;line-height:11.16px;color:#5ec9a3;font-weight:normal;text-align:right;letter-spacing:0px;">provider</div>
<div style="position:absolute;right:2499.2px;top:606.3px;white-space:nowrap;font-size:19.2px;line-height:23.04px;color:#f3a035;font-weight:normal;text-align:right;letter-spacing:0px;-webkit-text-stroke:0.45px #f3a035;">Ulla</div>
<div style="position:absolute;right:2499.2px;top:630.5px;white-space:nowrap;font-size:9.3px;line-height:11.16px;color:#f3a748;font-weight:normal;text-align:right;letter-spacing:0px;">Care Recipient</div>
<div style="position:absolute;right:2499.2px;top:705.0px;white-space:nowrap;font-size:19.5px;line-height:23.40px;color:#f8c3c7;font-weight:normal;text-align:right;letter-spacing:0px;-webkit-text-stroke:0.35px #f8c3c7;">Anna</div>
<div style="position:absolute;right:2499.2px;top:728.5px;white-space:nowrap;font-size:9.3px;line-height:11.16px;color:#f9d3d6;font-weight:normal;text-align:right;letter-spacing:0px;">Relative</div>
<div style="position:absolute;right:2499.5px;top:842.8px;white-space:nowrap;font-size:19.2px;line-height:23.04px;color:#f0c8a2;font-weight:normal;text-align:right;letter-spacing:0px;-webkit-text-stroke:0.2px #f0c8a2;">Hardware</div>
<div style="position:absolute;right:2499.5px;top:864.4px;white-space:nowrap;font-size:9.3px;line-height:11.16px;color:#f3d6bd;font-weight:normal;text-align:right;letter-spacing:0px;">Withings watch</div>
<div style="position:absolute;right:2499.5px;top:927.9px;white-space:nowrap;font-size:20.2px;line-height:24.24px;color:#333333;font-weight:normal;text-align:right;letter-spacing:0px;-webkit-text-stroke:0.3px #333333;">Avanto</div>
<div style="position:absolute;right:2499.5px;top:950.9px;white-space:nowrap;font-size:9.3px;line-height:11.16px;color:#444;font-weight:normal;text-align:right;letter-spacing:0px;">Avanto Care</div>
<div style="position:absolute;right:2499.5px;top:960.4px;white-space:nowrap;font-size:9.3px;line-height:11.16px;color:#444;font-weight:normal;text-align:right;letter-spacing:0px;">Connect App</div>
<div style="position:absolute;right:2499.5px;top:1012.4px;white-space:nowrap;font-size:20.2px;line-height:24.24px;color:#333333;font-weight:normal;text-align:right;letter-spacing:0px;-webkit-text-stroke:0.3px #333333;">Avanto</div>
<div style="position:absolute;right:2499.5px;top:1037.2px;white-space:nowrap;font-size:9.3px;line-height:11.16px;color:#444;font-weight:normal;text-align:right;letter-spacing:0px;">Avanto Care</div>
<div style="position:absolute;right:2499.5px;top:1045.7px;white-space:nowrap;font-size:9.3px;line-height:11.16px;color:#444;font-weight:normal;text-align:right;letter-spacing:0px;">BI</div>
<div style="position:absolute;left:143.2px;top:828px;width:58.4px;height:61.0px;border-radius:13px;background:#ffffff;box-shadow:0 3px 7px rgba(0,0,0,0.13);overflow:hidden"><svg width="58.4" height="61" viewBox="143.2 828 58.4 61" style="display:block">
<rect x="163" y="840.5" width="18.4" height="6" rx="1.5" fill="#c4c4c4"/><rect x="163" y="868.5" width="18.4" height="7" rx="1.5" fill="#c4c4c4"/>
<rect x="165.2" y="833" width="14" height="15" rx="2.5" fill="#3a3c69"/>
<rect x="165.2" y="866" width="14" height="17.5" rx="2.5" fill="#3a3c69"/>
<circle cx="172.2" cy="857.4" r="14.8" fill="#c2c2c2"/><circle cx="172.2" cy="857.4" r="11.6" fill="#ffffff"/>
<path d="M172 853.8 L172 859.6 L178.5 859.6" fill="none" stroke="#8a8a8a" stroke-width="1.2"/></svg></div>
<div style="position:absolute;left:142px;top:921px;width:61.7px;height:58.7px;border-radius:13px;background:#efefef;box-shadow:0 3px 7px rgba(0,0,0,0.13);overflow:hidden"><svg width="44" height="44" viewBox="-22 -22 44 44" style="position:absolute;left:8.3px;top:6.5px">
<g fill="none" stroke="#222" stroke-width="3.3" stroke-linejoin="round" stroke-linecap="butt">
<path d="M-6.2 -17.8 L0 -6.2 L6.6 -17.8"/><path d="M-6.2 17.8 L0 6.2 L6.6 17.8"/>
<path d="M-11.6 -15 L-4.4 -2.9 L-18.3 -2.9"/><path d="M11.9 -15 L4.6 -2.9 L18.6 -2.9"/>
<path d="M-11.6 15 L-4.4 2.9 L-18.3 2.9"/><path d="M11.9 15 L4.6 2.9 L18.6 2.9"/>
</g></svg></div>
<div style="position:absolute;left:144px;top:1007px;width:58.3px;height:57.0px;border-radius:13px;background:#f8c3c3;box-shadow:0 3px 7px rgba(0,0,0,0.13);overflow:hidden"><svg width="44" height="44" viewBox="-22 -22 44 44" style="position:absolute;left:7.2px;top:6.5px">
<g fill="none" stroke="#222" stroke-width="3.3" stroke-linejoin="round" stroke-linecap="butt">
<path d="M-6.2 -17.8 L0 -6.2 L6.6 -17.8"/><path d="M-6.2 17.8 L0 6.2 L6.6 17.8"/>
<path d="M-11.6 -15 L-4.4 -2.9 L-18.3 -2.9"/><path d="M11.9 -15 L4.6 -2.9 L18.6 -2.9"/>
<path d="M-11.6 15 L-4.4 2.9 L-18.3 2.9"/><path d="M11.9 15 L4.6 2.9 L18.6 2.9"/>
</g></svg></div>
</body></html>
